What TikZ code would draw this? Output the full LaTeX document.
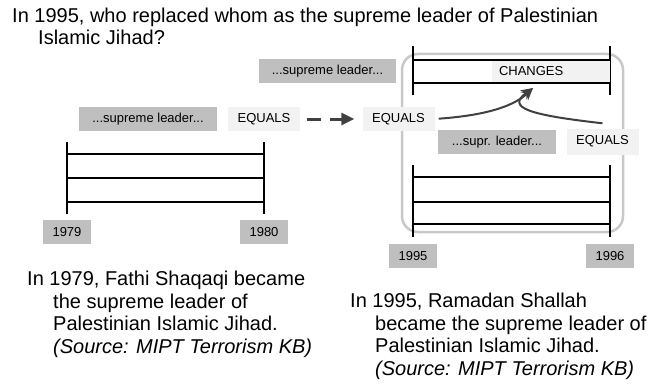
\documentclass[tikz,border=0pt]{standalone}
\usepackage{fontspec}
\setmainfont{Liberation Sans}
\usetikzlibrary{arrows.meta}
\definecolor{boxdark}{HTML}{BFBFBF}
\definecolor{boxlight}{HTML}{F2F2F2}
\definecolor{framegray}{HTML}{C8C8C8}
\definecolor{arrowgray}{HTML}{404040}

\begin{document}
\begin{tikzpicture}[x=1pt, y=-1pt,
    tag/.style={fill=boxdark, minimum height=24pt, inner sep=0pt,
      font=\fontsize{13}{15}\selectfont},
    eqtag/.style={tag, fill=boxlight, minimum width=72pt},
    year/.style={tag, minimum width=48pt},
    tl/.style={line width=1.5pt},
    link/.style={arrowgray, line width=2pt, -{Stealth[length=12pt,width=11pt]}},
    para/.style={anchor=base west, align=left, inner sep=0pt,
      font=\fontsize{20}{22.5}\selectfont}]
  \useasboundingbox (0,0) rectangle (660,385);
  % question (placed by its last line)
  \node[para, font=\fontsize{20}{22}\selectfont] (question) at (12,45)
    {In 1995, who replaced whom as the supreme leader of Palestinian\\
     \hspace*{26pt}Islamic Jihad?};
  % frame round the second period
  \draw[framegray, line width=2.5pt, rounded corners=16pt] (402,54) rectangle (623,232);
  % left timeline
  \foreach \x in {67,264} \draw[tl] (\x,142) -- (\x,214);
  \foreach \y in {154,178,202} \draw[tl] (67,\y) -- (264,\y);
  % right timeline
  \foreach \x in {413,610} {
    \draw[tl] (\x,46) -- (\x,95);
    \draw[tl] (\x,165) -- (\x,237);
  }
  \foreach \y in {60,83,177,202,224} \draw[tl] (413,\y) -- (610,\y);
  \node[tag, fill=boxlight, text width=104pt, align=left, inner xsep=7pt,
    minimum height=21pt] (changes) at (551,71.5) {CHANGES};
  % years
  \foreach \yr/\x/\y in {1979/67/232,1980/264/232,1995/413/256,1996/610/256}
    \node[year] (y-\yr) at (\x,\y) {\yr};
  % labels
  \node[tag, minimum width=138pt] (lead-a) at (148,119) {...supreme leader...};
  \node[eqtag] (eq-a) at (264,119) {EQUALS};
  \node[tag, minimum width=137pt] (lead-b) at (327.5,71) {...supreme leader...};
  \node[eqtag] (eq-b) at (398.5,119) {EQUALS};
  \node[tag, minimum width=118pt] (lead-c) at (497,142) {...supr. leader...};
  \node[eqtag, minimum height=26pt] (eq-c) at (602.5,141.5) {EQUALS};
  % arrows
  \coordinate (tip) at (533,88);
  \draw[arrowgray, line width=3pt, dash pattern=on 14pt off 9pt,
    -{Triangle[length=13pt,width=12pt]}, shorten <=7pt, shorten >=8pt] (eq-a) -- (eq-b);
  \draw[link, shorten <=4pt] (eq-b.east) .. controls (490,115) and (515,105) .. (tip);
  \draw[link] ([yshift=5pt]eq-c.north) .. controls (530,115) and (505,108) .. (tip);
  % facts (placed by their last line)
  \node[para] (fact-a) at (27,353)
    {In 1979, Fathi Shaqaqi became\\
     \hspace*{26pt}the supreme leader of\\
     \hspace*{26pt}Palestinian Islamic Jihad.\\
     \hspace*{26pt}\textit{(Source: MIPT Terrorism KB)}};
  \node[para] (fact-b) at (350,375)
    {In 1995, Ramadan Shallah\\
     \hspace*{25pt}became the supreme leader of\\
     \hspace*{25pt}Palestinian Islamic Jihad.\\
     \hspace*{25pt}\textit{(Source: MIPT Terrorism KB)}};
\end{tikzpicture}
\end{document}
